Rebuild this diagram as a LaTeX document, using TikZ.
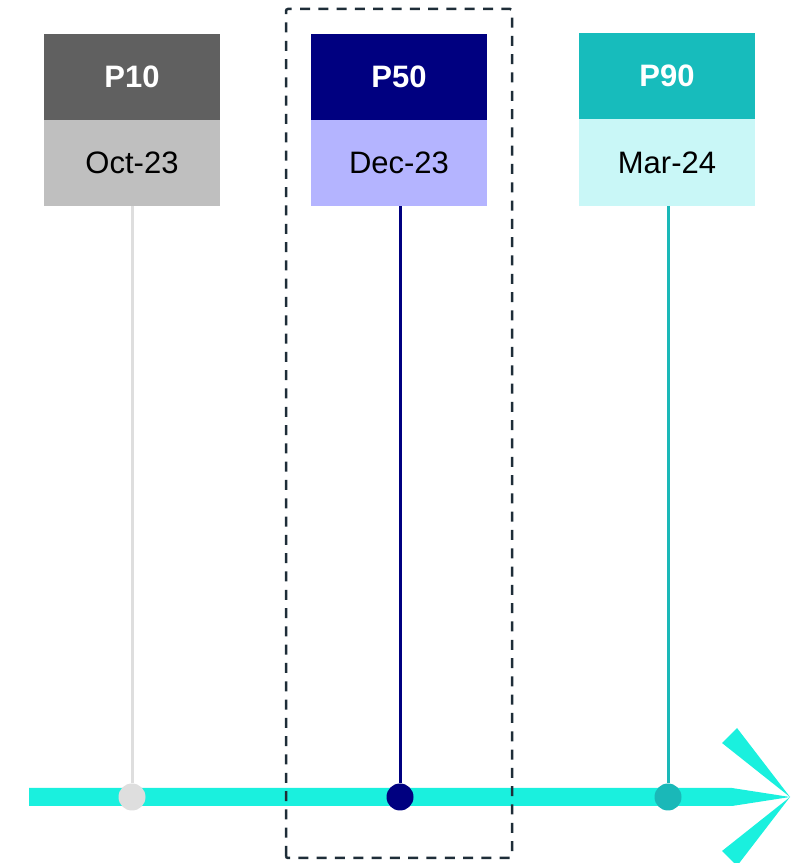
\documentclass[tikz,border=0pt]{standalone}
\usepackage{fontspec}
\setmainfont{Liberation Sans}
\definecolor{axiscol}{HTML}{1AF0DE}
\definecolor{hdA}{HTML}{606060}
\definecolor{sbA}{HTML}{BFBFBF}
\definecolor{lnA}{HTML}{DEDEDE}
\definecolor{hdB}{HTML}{000080}
\definecolor{sbB}{HTML}{B4B4FF}
\definecolor{hdC}{HTML}{17BCBC}
\definecolor{sbC}{HTML}{C9F7F7}
\definecolor{lnC}{HTML}{1AB8B8}
\definecolor{dashcol}{HTML}{1E2D38}
\tikzset{
  hdr/.style={rectangle, minimum width=176pt, minimum height=86pt, inner sep=0pt, anchor=north, text=white, font=\fontsize{31}{34}\selectfont\bfseries},
  sub/.style={rectangle, minimum width=176pt, minimum height=87pt, inner sep=0pt, anchor=north, text=black, font=\fontsize{31}{34}\selectfont},
  dot/.style={circle, minimum size=27pt, inner sep=0pt},
  stem/.style={line width=3pt},
}
\begin{document}
\begin{tikzpicture}[x=1pt,y=1pt]
\useasboundingbox (0,0) rectangle (805,863);
% axis (y flipped: Y = 863 - y)
\coordinate (axstart) at (29,66);
\coordinate (tip) at (790,66);
\fill[axiscol] (29,75) -- (732,75) -- (tip) -- (732,57) -- (29,57) -- cycle;
\fill[axiscol] (tip) -- (737,135) -- (722,120) -- cycle;
\fill[axiscol] (tip) -- (737,-3) -- (722,12) -- cycle;
% boxes (sub drawn first, header overlaps its top edge slightly)
\node[sub, fill=sbA] (s10) at (132,744) {Oct-23};
\node[hdr, fill=hdA] (h10) at (132,829) {P10};
\node[sub, fill=sbB] (s50) at (399,744) {Dec-23};
\node[hdr, fill=hdB] (h50) at (399,829) {P50};
\node[sub, fill=sbC] (s90) at (667,744) {Mar-24};
\node[hdr, fill=hdC] (h90) at (667,830) {P90};
% dots
\node[dot, fill=lnA] (d10) at (132,66) {};
\node[dot, fill=hdB] (d50) at (400,66) {};
\node[dot, fill=lnC] (d90) at (668,66) {};
% stems
\draw[stem, lnA] (d10.center |- s10.south) -- (d10.north);
\draw[stem, hdB] (d50.center |- s50.south) -- (d50.north);
\draw[stem, lnC] (d90.center |- s90.south) -- (d90.north);
% dashed frame
\draw[dashcol, line width=2.5pt, dash pattern=on 10pt off 8.3pt, rounded corners=2pt] (286,5) rectangle (512,854);
\end{tikzpicture}
\end{document}
